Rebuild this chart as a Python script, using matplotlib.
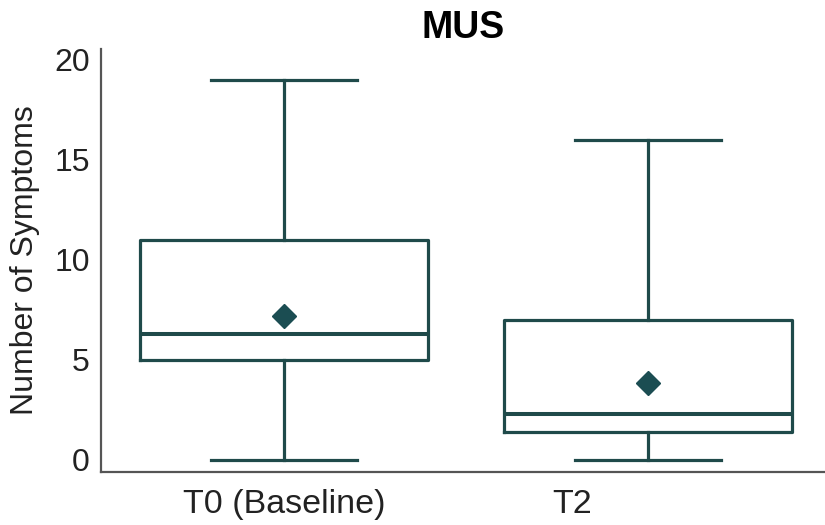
import matplotlib
matplotlib.use("Agg")
import matplotlib.pyplot as plt
from matplotlib.transforms import ScaledTranslation

plt.rcParams['font.family'] = ['Liberation Sans', 'DejaVu Sans']

groups = ["T0 (Baseline)", "T2"]
whislo = [0, 0]
q1 = [5.0, 1.4]
med = [6.3, 2.3]
q3 = [11.0, 7.0]
whishi = [19, 16]
means = [7.2, 3.85]

box_color = '#1f4a4a'
mean_color = '#1b4d52'
spine_color = '#555555'

fig = plt.figure(figsize=(8.25, 5.25), dpi=100)
ax = fig.add_axes([0.1224, 0.101, 0.8776, 0.806])

stats = []
for i, g in enumerate(groups):
    stats.append(dict(label=g, whislo=whislo[i], q1=q1[i], med=med[i],
                      q3=q3[i], whishi=whishi[i], mean=means[i], fliers=[]))

lw = 2.3
ax.bxp(stats, positions=range(len(groups)), widths=0.79, capwidths=0.4,
       showmeans=True, showfliers=False,
       boxprops=dict(color=box_color, linewidth=lw),
       whiskerprops=dict(color=box_color, linewidth=lw),
       capprops=dict(color=box_color, linewidth=lw),
       medianprops=dict(color=box_color, linewidth=lw + 0.6),
       meanprops=dict(marker='D', markerfacecolor=mean_color,
                      markeredgecolor=mean_color, markersize=12.5))

ax.set_xlim(-0.503, 1.486)
ax.set_ylim(-0.6, 20.55)
ax.set_yticks([0, 5, 10, 15, 20])
ax.set_xticks([0, 1])
ax.set_xticklabels(groups)

for s in ['top', 'right']:
    ax.spines[s].set_visible(False)
for s in ['left', 'bottom']:
    ax.spines[s].set_color(spine_color)
    ax.spines[s].set_linewidth(1.6)

ax.tick_params(axis='y', length=0, labelsize=23, colors='#222222', pad=8)
ax.tick_params(axis='x', length=0, labelsize=24.5, colors='#222222', pad=12)

# the reference draws the T2 label left of its box centre
lbl = ax.get_xticklabels()[1]
lbl.set_transform(lbl.get_transform() + ScaledTranslation(-0.76, 0, fig.dpi_scale_trans))

ax.set_ylabel("Number of Symptoms", fontsize=23, color='#222222', labelpad=10)
ax.set_title("MUS", fontsize=27, fontweight='bold', pad=8)

fig.savefig("out.png", dpi=100)
